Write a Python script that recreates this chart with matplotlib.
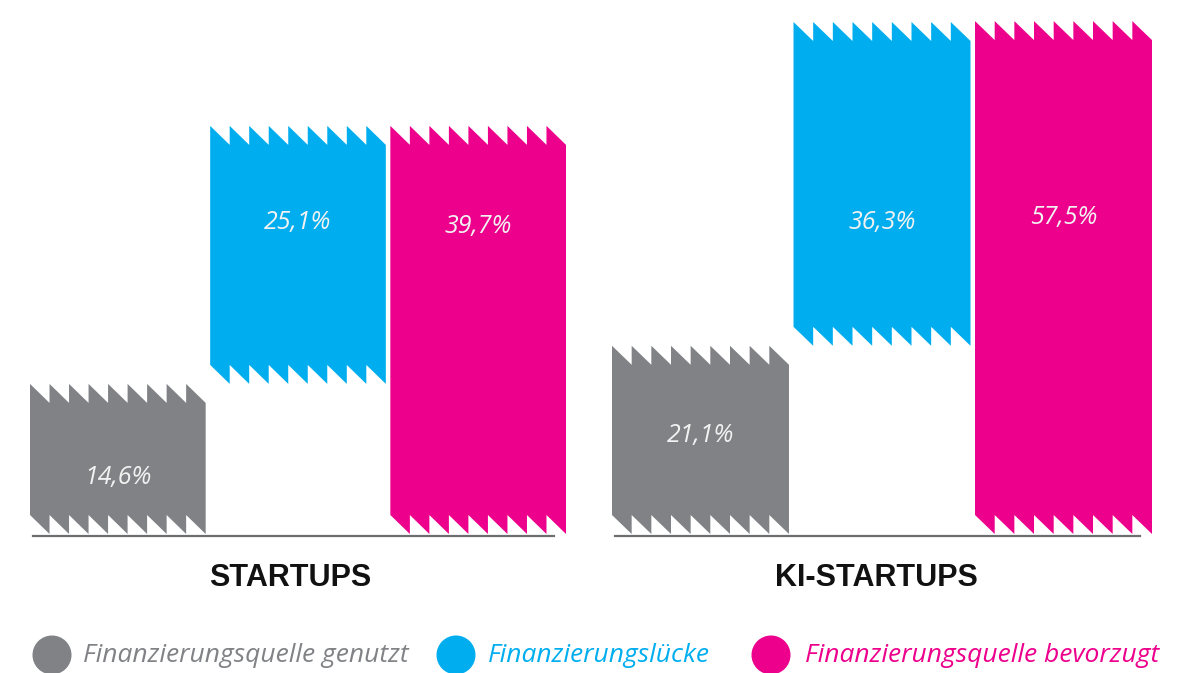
import numpy as np
import matplotlib
matplotlib.use("Agg")
import matplotlib.pyplot as plt
from matplotlib.patches import Polygon, Circle

# ---- data ----
panels = ["STARTUPS", "KI-STARTUPS"]
series = ["Finanzierungsquelle genutzt", "Finanzierungslücke", "Finanzierungsquelle bevorzugt"]
genutzt = [14.6, 21.1]
luecke = [25.1, 36.3]
bevorzugt = [39.7, 57.5]
value_labels = [["14,6%", "25,1%", "39,7%"], ["21,1%", "36,3%", "57,5%"]]

colors = ["#808285", "#00aeef", "#ec008c"]

W, H = 1192, 673
fig = plt.figure(figsize=(W / 100, H / 100), dpi=100)

# layout (pixels)
panel_x = [(30, 566), (612, 1152)]
base_px = 534
px_per_pct = [10.28, 8.92]
tooth_px = 19
n_teeth = 9
bar_w = 0.975
label_frac = [[0.105, 0.584, 0.575], [0.184, 0.584, 0.592]]


def saw_bar(ax, xc, lo, hi, w, d, color, n=n_teeth):
    a, b = xc - w / 2, xc + w / 2
    p = (b - a) / n
    top = []
    for i in range(n):
        top += [(a + i * p, hi), (a + (i + 1) * p, hi - d)]
    bot = []
    for i in range(n):
        bot += [(a + i * p, lo + d), (a + (i + 1) * p, lo)]
    pts = top + bot[::-1]
    ax.add_patch(Polygon(pts, closed=True, facecolor=color, edgecolor="none", zorder=3))


for k in range(2):
    x0, x1 = panel_x[k]
    ax = fig.add_axes([x0 / W, (H - base_px) / H, (x1 - x0) / W, base_px / H])
    ax.set_xlim(-bar_w / 2, 2 + bar_w / 2)
    ax.set_ylim(0, base_px / px_per_pct[k])
    ax.axis("off")
    d = tooth_px / px_per_pct[k]
    los = [0, genutzt[k], 0]
    his = [genutzt[k], genutzt[k] + luecke[k], bevorzugt[k]]
    xs = np.arange(3)
    for j in range(3):
        saw_bar(ax, xs[j], los[j], his[j], bar_w, d, colors[j])
        ax.text(xs[j], label_frac[k][j], value_labels[k][j], transform=ax.get_xaxis_transform(),
                ha="center", va="center", color="#f2f2f2", fontsize=18,
                family="Open Sans", style="italic", zorder=5)
    ax.axhline(-1.5 / px_per_pct[k], xmin=0.005, xmax=0.978, color="#6d6e71", lw=1.6,
               zorder=2, clip_on=False)

# overlay for titles and legend (pixel coordinates)
ov = fig.add_axes([0, 0, 1, 1])
ov.set_xlim(0, W)
ov.set_ylim(H, 0)
ov.axis("off")
title_x = [290, 876]
for k in range(2):
    ov.text(title_x[k], 578, panels[k], ha="center", va="center", fontsize=22,
            fontweight="bold", family="Liberation Sans", color="#111111")

leg_circle_x = [52, 456, 771]
leg_text_x = [83, 488, 805]
for j in range(3):
    ov.add_patch(Circle((leg_circle_x[j], 655), 19.5, facecolor=colors[j], edgecolor="none"))
    ov.text(leg_text_x[j], 656, series[j], ha="left", va="center", fontsize=19,
            family="Open Sans", style="italic", color=colors[j])

fig.savefig("out.png", dpi=100)
